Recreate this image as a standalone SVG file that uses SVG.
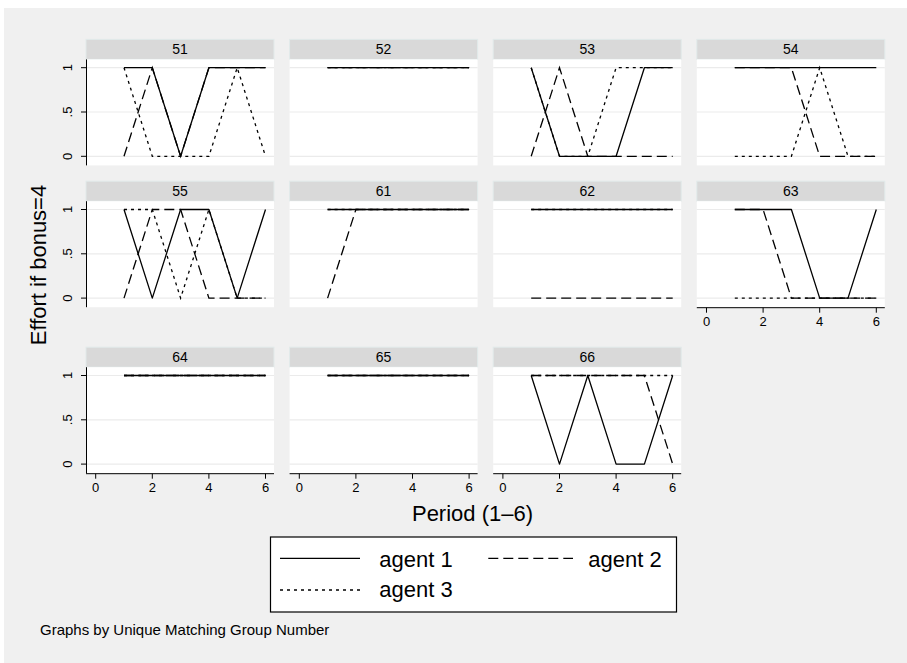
<svg xmlns="http://www.w3.org/2000/svg" width="907" height="663" viewBox="0 0 907 663">
<style>
text{font-family:"Liberation Sans",Arial,sans-serif;fill:#000}
.hd{fill:#d9d9d9;stroke:#e2eaea;stroke-width:1}
.pr{fill:#fff}
.gr{stroke:#ebebeb;stroke-width:1.2;fill:none}
.ax{stroke:#000;stroke-width:1;fill:none}
.ht{font-size:14px;text-anchor:middle}
.tl{font-size:13px;text-anchor:middle}
.s{fill:none;stroke:#000;stroke-width:1.3;stroke-linejoin:round}
.d{fill:none;stroke:#000;stroke-width:1.3;stroke-dasharray:10 5}
.o{fill:none;stroke:#000;stroke-width:1.3;stroke-dasharray:3 4}
</style>
<defs>
<g id="frame">
<rect class="hd" x="0" y="0" width="188" height="20"/>
<rect class="pr" x="0" y="20" width="188" height="106"/>
<path class="gr" d="M0 28.3H188M0 72.6H188M0 116.9H188"/>
</g>
<g id="yax">
<path class="ax" d="M0.5 20V126M-5 28.3H0.5M-5 72.6H0.5M-5 116.9H0.5"/>
<text class="tl" transform="translate(-14 28.3) rotate(-90)">1</text>
<text class="tl" transform="translate(-14 72.6) rotate(-90)">.5</text>
<text class="tl" transform="translate(-14 116.9) rotate(-90)">0</text>
</g>
<g id="xax">
<path class="ax" d="M0 126.5H188M9.7 126.5V131.5M66.3 126.5V131.5M122.9 126.5V131.5M179.5 126.5V131.5"/>
<text class="tl" x="9.7" y="144.5">0</text>
<text class="tl" x="66.3" y="144.5">2</text>
<text class="tl" x="122.9" y="144.5">4</text>
<text class="tl" x="179.5" y="144.5">6</text>
</g>
</defs>
<rect x="0" y="0" width="907" height="663" fill="#fff"/>
<rect x="4" y="8" width="903" height="655" fill="#f0f0f0"/>

<g id="p51" transform="translate(86 39.4)">
<use href="#frame"/><use href="#yax"/>
<text class="ht" x="94" y="15">51</text>
<polyline class="s" points="38,28.3 66.3,28.3 94.6,116.9 122.9,28.3 151.2,28.3 179.5,28.3"/>
<polyline class="d" points="38,116.9 66.3,28.3 94.6,116.9 122.9,28.3 151.2,28.3 179.5,28.3"/>
<polyline class="o" points="38,28.3 66.3,116.9 94.6,116.9 122.9,116.9 151.2,28.3 179.5,116.9"/>
</g>
<g id="p52" transform="translate(289.6 39.4)">
<use href="#frame"/>
<text class="ht" x="94" y="15">52</text>
<polyline class="s" points="38,28.3 179.5,28.3"/>
<polyline class="d" points="38,28.3 179.5,28.3"/>
<polyline class="o" points="38,28.3 179.5,28.3"/>
</g>
<g id="p53" transform="translate(493.2 39.4)">
<use href="#frame"/>
<text class="ht" x="94" y="15">53</text>
<polyline class="s" points="38,28.3 66.3,116.9 94.6,116.9 122.9,116.9 151.2,28.3 179.5,28.3"/>
<polyline class="d" points="38,116.9 66.3,28.3 94.6,116.9 122.9,116.9 151.2,116.9 179.5,116.9"/>
<polyline class="o" points="38,28.3 66.3,116.9 94.6,116.9 122.9,28.3 151.2,28.3 179.5,28.3"/>
</g>
<g id="p54" transform="translate(696.8 39.4)">
<use href="#frame"/>
<text class="ht" x="94" y="15">54</text>
<polyline class="s" points="38,28.3 179.5,28.3"/>
<polyline class="d" points="38,28.3 66.3,28.3 94.6,28.3 122.9,116.9 151.2,116.9 179.5,116.9"/>
<polyline class="o" points="38,116.9 66.3,116.9 94.6,116.9 122.9,28.3 151.2,116.9 179.5,116.9"/>
</g>

<g id="p55" transform="translate(86 181.2)">
<use href="#frame"/><use href="#yax"/>
<text class="ht" x="94" y="15">55</text>
<polyline class="s" points="38,28.3 66.3,116.9 94.6,28.3 122.9,28.3 151.2,116.9 179.5,28.3"/>
<polyline class="d" points="38,116.9 66.3,28.3 94.6,28.3 122.9,116.9 151.2,116.9 179.5,116.9"/>
<polyline class="o" points="38,28.3 66.3,28.3 94.6,116.9 122.9,28.3 151.2,116.9 179.5,116.9"/>
</g>
<g id="p61" transform="translate(289.6 181.2)">
<use href="#frame"/>
<text class="ht" x="94" y="15">61</text>
<polyline class="s" points="38,28.3 179.5,28.3"/>
<polyline class="d" points="38,116.9 66.3,28.3 179.5,28.3"/>
<polyline class="o" points="38,28.3 179.5,28.3"/>
</g>
<g id="p62" transform="translate(493.2 181.2)">
<use href="#frame"/>
<text class="ht" x="94" y="15">62</text>
<polyline class="s" points="38,28.3 179.5,28.3"/>
<polyline class="d" points="38,116.9 179.5,116.9"/>
<polyline class="o" points="38,28.3 179.5,28.3"/>
</g>
<g id="p63" transform="translate(696.8 181.2)">
<use href="#frame"/><use href="#xax"/>
<text class="ht" x="94" y="15">63</text>
<polyline class="s" points="38,28.3 66.3,28.3 94.6,28.3 122.9,116.9 151.2,116.9 179.5,28.3"/>
<polyline class="d" points="38,28.3 66.3,28.3 94.6,116.9 122.9,116.9 151.2,116.9 179.5,116.9"/>
<polyline class="o" points="38,116.9 179.5,116.9"/>
</g>

<g id="p64" transform="translate(86 347.2)">
<use href="#frame"/><use href="#yax"/><use href="#xax"/>
<text class="ht" x="94" y="15">64</text>
<polyline class="s" points="38,28.3 179.5,28.3"/>
<polyline class="d" points="38,28.3 179.5,28.3"/>
<polyline class="o" points="38,28.3 179.5,28.3"/>
</g>
<g id="p65" transform="translate(289.6 347.2)">
<use href="#frame"/><use href="#xax"/>
<text class="ht" x="94" y="15">65</text>
<polyline class="s" points="38,28.3 179.5,28.3"/>
<polyline class="d" points="38,28.3 179.5,28.3"/>
<polyline class="o" points="38,28.3 179.5,28.3"/>
</g>
<g id="p66" transform="translate(493.2 347.2)">
<use href="#frame"/><use href="#xax"/>
<text class="ht" x="94" y="15">66</text>
<polyline class="s" points="38,28.3 66.3,116.9 94.6,28.3 122.9,116.9 151.2,116.9 179.5,28.3"/>
<polyline class="d" points="38,28.3 151.2,28.3 179.5,116.9"/>
<polyline class="o" points="38,28.3 179.5,28.3"/>
</g>

<g id="titles">
<text x="46" y="265" font-size="22" text-anchor="middle" transform="rotate(-90 46 265)">Effort if bonus=4</text>
<text x="472.5" y="521" font-size="22" text-anchor="middle">Period (1–6)</text>
<text x="40" y="635" font-size="15">Graphs by Unique Matching Group Number</text>
</g>

<g id="legend">
<rect x="270.5" y="537" width="406" height="75" fill="#fff" stroke="#000" stroke-width="1.2"/>
<line class="s" x1="280" y1="558.3" x2="360" y2="558.3"/>
<text x="379.3" y="566.5" font-size="22">agent 1</text>
<line class="d" x1="488.3" y1="558.3" x2="573" y2="558.3"/>
<text x="588.3" y="566.5" font-size="22">agent 2</text>
<line class="o" x1="280" y1="590" x2="360" y2="590"/>
<text x="379.3" y="597" font-size="22">agent 3</text>
</g>
</svg>
